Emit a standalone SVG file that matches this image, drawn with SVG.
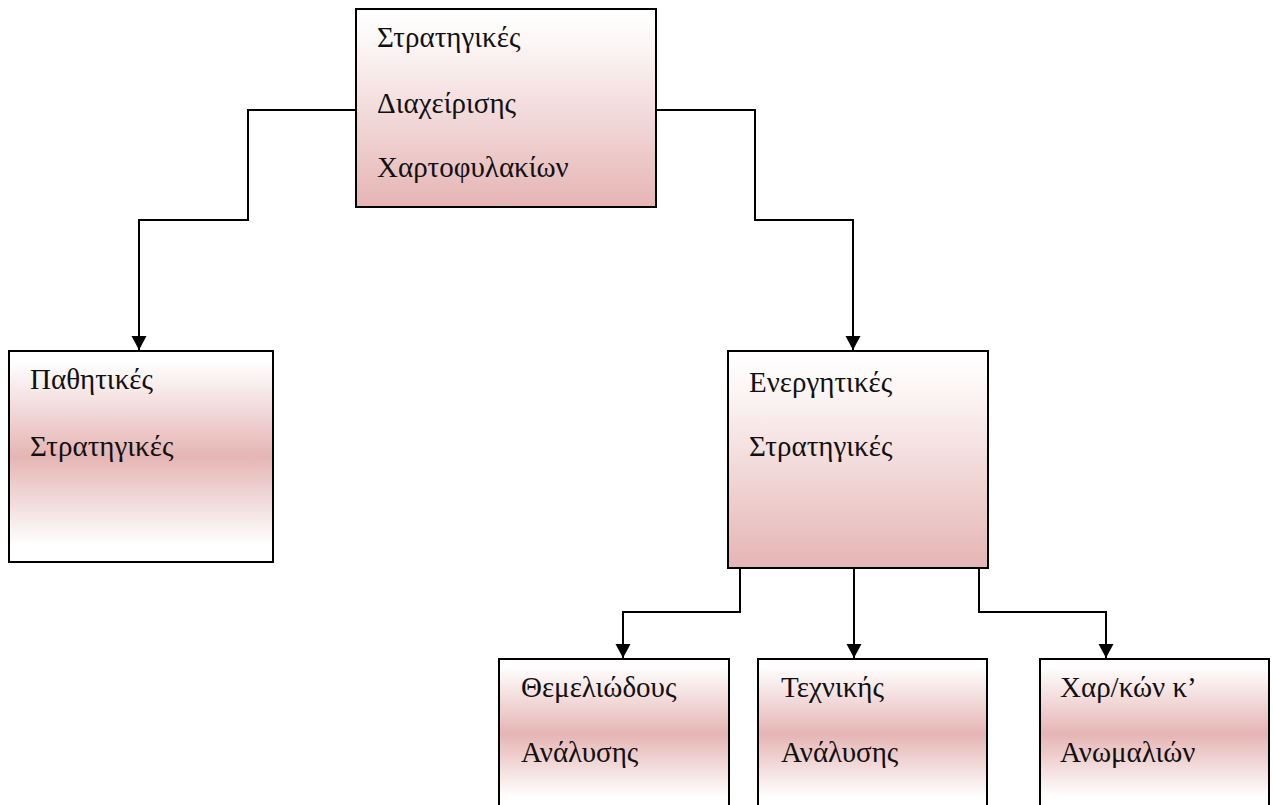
<svg xmlns="http://www.w3.org/2000/svg" width="1273" height="805" viewBox="0 0 1273 805">
<style>
.box{stroke:#000;stroke-width:2}
.lbl{font-family:"Liberation Serif","Times New Roman",serif;font-size:29px;fill:#111}
.conn{fill:none;stroke:#000;stroke-width:2}
</style>
<defs>
<linearGradient id="gDown" x1="0" y1="0" x2="0" y2="1">
<stop offset="0" stop-color="#ffffff"/>
<stop offset="0.15" stop-color="#fdf8f8"/>
<stop offset="1" stop-color="#e5b5b4"/>
</linearGradient>
<linearGradient id="gBand" x1="0" y1="0" x2="0" y2="1">
<stop offset="0.05" stop-color="#ffffff"/>
<stop offset="0.5" stop-color="#e5b5b4"/>
<stop offset="0.92" stop-color="#ffffff"/>
</linearGradient>
<marker id="arr" markerUnits="userSpaceOnUse" markerWidth="16" markerHeight="16" refX="14" refY="7.5" orient="auto">
<path d="M0,0 L14,7.5 L0,15 z" fill="#000"/>
</marker>
</defs>
<g id="connectors">
<path class="conn" d="M356,110 H248 V220 H139 V350" marker-end="url(#arr)"/>
<path class="conn" d="M656,110 H755 V220 H853 V350" marker-end="url(#arr)"/>
<path class="conn" d="M740,568 V612 H623 V658" marker-end="url(#arr)"/>
<path class="conn" d="M854,568 V658" marker-end="url(#arr)"/>
<path class="conn" d="M979,568 V612 H1106 V658" marker-end="url(#arr)"/>
</g>
<g id="node-root">
<rect class="box" x="356" y="9" width="300" height="198" fill="url(#gDown)"/>
<text class="lbl" x="377" y="47">Στρατηγικές</text>
<text class="lbl" x="377" y="113">Διαχείρισης</text>
<text class="lbl" x="377" y="177">Χαρτοφυλακίων</text>
</g>
<g id="node-passive">
<rect class="box" x="9" y="351" width="264" height="211" fill="url(#gBand)"/>
<text class="lbl" x="30" y="389">Παθητικές</text>
<text class="lbl" x="30" y="456">Στρατηγικές</text>
</g>
<g id="node-active">
<rect class="box" x="728" y="351" width="260" height="217" fill="url(#gDown)"/>
<text class="lbl" x="749" y="392">Ενεργητικές</text>
<text class="lbl" x="749" y="456">Στρατηγικές</text>
</g>
<g id="node-fundamental">
<rect class="box" x="499" y="659" width="230" height="150" fill="url(#gBand)"/>
<text class="lbl" x="521" y="697">Θεμελιώδους</text>
<text class="lbl" x="521" y="762">Ανάλυσης</text>
</g>
<g id="node-technical">
<rect class="box" x="758" y="659" width="229" height="150" fill="url(#gBand)"/>
<text class="lbl" x="781" y="697">Τεχνικής</text>
<text class="lbl" x="781" y="762">Ανάλυσης</text>
</g>
<g id="node-anomalies">
<rect class="box" x="1040" y="659" width="229" height="150" fill="url(#gBand)"/>
<text class="lbl" x="1060" y="697">Χαρ/κών κ’</text>
<text class="lbl" x="1060" y="762">Ανωμαλιών</text>
</g>
</svg>
